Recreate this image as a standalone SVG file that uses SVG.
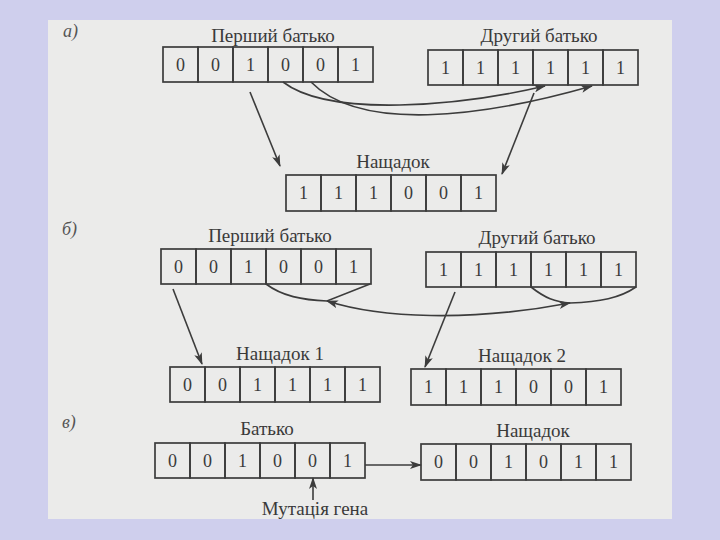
<svg xmlns="http://www.w3.org/2000/svg" width="720" height="540" viewBox="0 0 720 540">
  <defs>
    <style>
      .cell { fill: none; stroke: #3c3c3c; stroke-width: 1.7; }
      .digit { font-family: "Liberation Serif", "DejaVu Serif", serif; font-size: 18px; fill: #3a3a3a; text-anchor: middle; }
      .title { font-family: "Liberation Serif", "DejaVu Serif", serif; font-size: 19px; fill: #3a3a3a; text-anchor: middle; }
      .lbl { font-family: "Liberation Serif", "DejaVu Serif", serif; font-size: 18px; font-style: italic; fill: #555; }
      .conn { fill: none; stroke: #3c3c3c; stroke-width: 1.6; }
    </style>
    <marker id="arr" viewBox="0 0 12 8" refX="11" refY="4" markerWidth="12" markerHeight="8" markerUnits="userSpaceOnUse" orient="auto-start-reverse">
      <path d="M0,0 L12,4 L0,8 L3,4 z" fill="#3c3c3c"/>
    </marker>
  </defs>

  <rect x="0" y="0" width="720" height="540" fill="#cfcfed"/>
  <rect x="48" y="20" width="624" height="499" fill="#ebebea"/>

  <text class="lbl" x="63" y="37">а)</text>
  <text class="lbl" x="62" y="235">б)</text>
  <text class="lbl" x="62" y="428">в)</text>

  <g id="a-parent1">
    <text class="title" x="273" y="42">Перший батько</text>
    <rect class="cell" x="163" y="47" width="35" height="35"/>
    <rect class="cell" x="198" y="47" width="35" height="35"/>
    <rect class="cell" x="233" y="47" width="35" height="35"/>
    <rect class="cell" x="268" y="47" width="35" height="35"/>
    <rect class="cell" x="303" y="47" width="35" height="35"/>
    <rect class="cell" x="338" y="47" width="35" height="35"/>
    <text class="digit" x="180.5" y="71">0</text>
    <text class="digit" x="215.5" y="71">0</text>
    <text class="digit" x="250.5" y="71">1</text>
    <text class="digit" x="285.5" y="71">0</text>
    <text class="digit" x="320.5" y="71">0</text>
    <text class="digit" x="355.5" y="71">1</text>
  </g>

  <g id="a-parent2">
    <text class="title" x="539" y="42">Другий батько</text>
    <rect class="cell" x="428" y="50" width="35" height="35"/>
    <rect class="cell" x="463" y="50" width="35" height="35"/>
    <rect class="cell" x="498" y="50" width="35" height="35"/>
    <rect class="cell" x="533" y="50" width="35" height="35"/>
    <rect class="cell" x="568" y="50" width="35" height="35"/>
    <rect class="cell" x="603" y="50" width="35" height="35"/>
    <text class="digit" x="445.5" y="74">1</text>
    <text class="digit" x="480.5" y="74">1</text>
    <text class="digit" x="515.5" y="74">1</text>
    <text class="digit" x="550.5" y="74">1</text>
    <text class="digit" x="585.5" y="74">1</text>
    <text class="digit" x="620.5" y="74">1</text>
  </g>

  <g id="a-child">
    <text class="title" x="393" y="168">Нащадок</text>
    <rect class="cell" x="286" y="175" width="35" height="36"/>
    <rect class="cell" x="321" y="175" width="35" height="36"/>
    <rect class="cell" x="356" y="175" width="35" height="36"/>
    <rect class="cell" x="391" y="175" width="35" height="36"/>
    <rect class="cell" x="426" y="175" width="35" height="36"/>
    <rect class="cell" x="461" y="175" width="35" height="36"/>
    <text class="digit" x="303.5" y="199">1</text>
    <text class="digit" x="338.5" y="199">1</text>
    <text class="digit" x="373.5" y="199">1</text>
    <text class="digit" x="408.5" y="199">0</text>
    <text class="digit" x="443.5" y="199">0</text>
    <text class="digit" x="478.5" y="199">1</text>
  </g>

  <g id="b-parent1">
    <text class="title" x="270" y="242">Перший батько</text>
    <rect class="cell" x="161" y="249" width="35" height="35"/>
    <rect class="cell" x="196" y="249" width="35" height="35"/>
    <rect class="cell" x="231" y="249" width="35" height="35"/>
    <rect class="cell" x="266" y="249" width="35" height="35"/>
    <rect class="cell" x="301" y="249" width="35" height="35"/>
    <rect class="cell" x="336" y="249" width="35" height="35"/>
    <text class="digit" x="178.5" y="273">0</text>
    <text class="digit" x="213.5" y="273">0</text>
    <text class="digit" x="248.5" y="273">1</text>
    <text class="digit" x="283.5" y="273">0</text>
    <text class="digit" x="318.5" y="273">0</text>
    <text class="digit" x="353.5" y="273">1</text>
  </g>

  <g id="b-parent2">
    <text class="title" x="537" y="244">Другий батько</text>
    <rect class="cell" x="426" y="252" width="35" height="35"/>
    <rect class="cell" x="461" y="252" width="35" height="35"/>
    <rect class="cell" x="496" y="252" width="35" height="35"/>
    <rect class="cell" x="531" y="252" width="35" height="35"/>
    <rect class="cell" x="566" y="252" width="35" height="35"/>
    <rect class="cell" x="601" y="252" width="35" height="35"/>
    <text class="digit" x="443.5" y="276">1</text>
    <text class="digit" x="478.5" y="276">1</text>
    <text class="digit" x="513.5" y="276">1</text>
    <text class="digit" x="548.5" y="276">1</text>
    <text class="digit" x="583.5" y="276">1</text>
    <text class="digit" x="618.5" y="276">1</text>
  </g>

  <g id="b-child1">
    <text class="title" x="280" y="360">Нащадок 1</text>
    <rect class="cell" x="170" y="367" width="35" height="35"/>
    <rect class="cell" x="205" y="367" width="35" height="35"/>
    <rect class="cell" x="240" y="367" width="35" height="35"/>
    <rect class="cell" x="275" y="367" width="35" height="35"/>
    <rect class="cell" x="310" y="367" width="35" height="35"/>
    <rect class="cell" x="345" y="367" width="35" height="35"/>
    <text class="digit" x="187.5" y="391">0</text>
    <text class="digit" x="222.5" y="391">0</text>
    <text class="digit" x="257.5" y="391">1</text>
    <text class="digit" x="292.5" y="391">1</text>
    <text class="digit" x="327.5" y="391">1</text>
    <text class="digit" x="362.5" y="391">1</text>
  </g>

  <g id="b-child2">
    <text class="title" x="522" y="362">Нащадок 2</text>
    <rect class="cell" x="411" y="369" width="35" height="36"/>
    <rect class="cell" x="446" y="369" width="35" height="36"/>
    <rect class="cell" x="481" y="369" width="35" height="36"/>
    <rect class="cell" x="516" y="369" width="35" height="36"/>
    <rect class="cell" x="551" y="369" width="35" height="36"/>
    <rect class="cell" x="586" y="369" width="35" height="36"/>
    <text class="digit" x="428.5" y="393">1</text>
    <text class="digit" x="463.5" y="393">1</text>
    <text class="digit" x="498.5" y="393">1</text>
    <text class="digit" x="533.5" y="393">0</text>
    <text class="digit" x="568.5" y="393">0</text>
    <text class="digit" x="603.5" y="393">1</text>
  </g>

  <g id="c-parent">
    <text class="title" x="267" y="435">Батько</text>
    <rect class="cell" x="155" y="443" width="35" height="35"/>
    <rect class="cell" x="190" y="443" width="35" height="35"/>
    <rect class="cell" x="225" y="443" width="35" height="35"/>
    <rect class="cell" x="260" y="443" width="35" height="35"/>
    <rect class="cell" x="295" y="443" width="35" height="35"/>
    <rect class="cell" x="330" y="443" width="35" height="35"/>
    <text class="digit" x="172.5" y="467">0</text>
    <text class="digit" x="207.5" y="467">0</text>
    <text class="digit" x="242.5" y="467">1</text>
    <text class="digit" x="277.5" y="467">0</text>
    <text class="digit" x="312.5" y="467">0</text>
    <text class="digit" x="347.5" y="467">1</text>
  </g>

  <g id="c-child">
    <text class="title" x="533" y="437">Нащадок</text>
    <rect class="cell" x="421" y="444" width="35" height="36"/>
    <rect class="cell" x="456" y="444" width="35" height="36"/>
    <rect class="cell" x="491" y="444" width="35" height="36"/>
    <rect class="cell" x="526" y="444" width="35" height="36"/>
    <rect class="cell" x="561" y="444" width="35" height="36"/>
    <rect class="cell" x="596" y="444" width="35" height="36"/>
    <text class="digit" x="438.5" y="468">0</text>
    <text class="digit" x="473.5" y="468">0</text>
    <text class="digit" x="508.5" y="468">1</text>
    <text class="digit" x="543.5" y="468">0</text>
    <text class="digit" x="578.5" y="468">1</text>
    <text class="digit" x="613.5" y="468">1</text>
  </g>

  <g id="c-mutation">
    <text class="title" x="315" y="515">Мутація гена</text>
  </g>

  <g id="connectors">
    <line class="conn" x1="250" y1="92" x2="280" y2="166" marker-end="url(#arr)"/>
    <path class="conn" d="M283,82 C330,118 460,106 545,86" marker-end="url(#arr)"/>
    <path class="conn" d="M311,82 C360,132 480,118 592,86" marker-end="url(#arr)"/>
    <line class="conn" x1="534" y1="93" x2="502" y2="174" marker-end="url(#arr)"/>

    <path class="conn" d="M266,284 C282,296 302,300 327,301 L370,284"/>
    <path class="conn" d="M531,287 C545,298 555,302 570,303 C600,302 620,298 636,287"/>
    <path class="conn" d="M327,301 C380,318 470,322 570,303" marker-start="url(#arr)" marker-end="url(#arr)"/>
    <line class="conn" x1="173" y1="289" x2="202" y2="364" marker-end="url(#arr)"/>
    <line class="conn" x1="455" y1="292" x2="425" y2="367" marker-end="url(#arr)"/>

    <line class="conn" x1="365" y1="465" x2="421" y2="465" marker-end="url(#arr)"/>
    <line class="conn" x1="313" y1="500" x2="313" y2="478" marker-end="url(#arr)"/>
  </g>
</svg>
